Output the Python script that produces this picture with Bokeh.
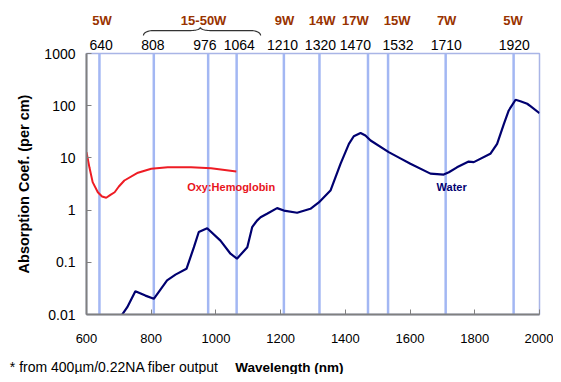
import numpy as np
from bokeh.plotting import figure
from bokeh.models import Range1d, LinearAxis, FixedTicker
from bokeh.embed import file_html
from bokeh.resources import INLINE
from bokeh.core.properties import value

FONT = "Liberation Sans"

# ---- data ----
water_nm = [700, 708, 726, 751, 782, 808, 849, 875, 909, 932, 947, 973, 1014, 1045, 1065,
            1097, 1112, 1127, 1138, 1158, 1189, 1210, 1251, 1292, 1318, 1354, 1385, 1411,
            1426, 1447, 1462, 1478, 1534, 1570, 1601, 1663, 1704, 1720, 1745, 1781, 1797,
            1848, 1869, 1890, 1905, 1926, 1941, 1962, 1972, 2000]
water_abs = [0.0075, 0.0095, 0.0138, 0.028, 0.023, 0.02, 0.045, 0.058, 0.075, 0.195, 0.38,
             0.45, 0.26, 0.146, 0.117, 0.195, 0.47, 0.63, 0.73, 0.85, 1.09, 0.98, 0.89, 1.06,
             1.4, 2.37, 7.7, 18.6, 26, 30, 26.8, 21.5, 12.9, 9.8, 7.7, 5.0, 4.8, 5.3, 6.6,
             8.5, 8.3, 12, 18.6, 45, 81, 130, 122, 109, 98, 72]

hb_nm = [600, 609, 619, 635, 648, 661, 674, 687, 700, 717, 759, 800, 851, 923, 985, 1063]
hb_abs = [12.8, 6.6, 3.43, 2.2, 1.82, 1.72, 1.96, 2.2, 2.83, 3.69, 5.2, 6.2, 6.6, 6.6, 6.36, 5.5]

laser_nm = [640, 808, 976, 1064, 1210, 1320, 1470, 1532, 1710, 1920]
laser_label_x = [645, 805, 966, 1072, 1206, 1323, 1431, 1563, 1712, 1922]

power_labels = ["5W", "15-50W", "9W", "14W", "17W", "15W", "7W", "5W"]
power_x = [648, 962, 1212, 1328, 1431, 1560, 1713, 1918]

x_ticks = [600, 800, 1000, 1200, 1400, 1600, 1800, 2000]
y_ticks = [0.01, 0.1, 1, 10, 100, 1000]
y_tick_labels = ["0.01", "0.1", "1", "10", "100", "1000"]

# brace over the 808-1064 group (nm ends, centre, log heights)
brace_x0, brace_x1, brace_c = 776, 1138, 952
brace_low, brace_flat, brace_tip = 3.345, 3.44, 3.50

series_labels = ["Oxy:Hemoglobin", "Water"]
series_label_x = [911, 1682]
series_label_y = [2.75, 2.75]

# texts below the axis (nm, absorption-scale position)
bottom_texts = ["Wavelength (nm)", "* from 400\u00b5m/0.22NA fiber output"]
bottom_x = [1227, 363]
bottom_y = 0.00097

# ---- figure ----
p = figure(width=553, height=374, x_range=Range1d(600, 2000), y_range=Range1d(0.01, 1000),
           y_axis_type="log", output_backend="svg", toolbar_location=None,
           min_border_left=86, min_border_right=14, min_border_top=53, min_border_bottom=60)
p.grid.visible = False
p.outline_line_color = "#a9b5e6"
p.outline_line_width = 1.5
p.background_fill_color = "white"
p.border_fill_color = "white"

xa = p.xaxis[0]
xa.ticker = FixedTicker(ticks=x_ticks)
xa.major_tick_in = 5
xa.major_tick_out = 0
xa.minor_tick_line_color = None
xa.axis_line_color = "#808080"
xa.axis_line_width = 2
xa.major_tick_line_color = "#808080"
xa.major_label_text_font = FONT
xa.major_label_text_font_size = "13px"
xa.major_label_text_color = "black"
xa.major_label_standoff = 19

ya = p.yaxis[0]
ya.ticker = FixedTicker(ticks=y_ticks)
ya.major_label_overrides = dict(zip(y_ticks, y_tick_labels))
ya.major_tick_in = 5
ya.major_tick_out = 0
ya.minor_tick_line_color = None
ya.axis_line_color = "#808080"
ya.axis_line_width = 2
ya.major_tick_line_color = "#808080"
ya.major_label_text_font = FONT
ya.major_label_text_font_size = "14px"
ya.major_label_text_color = "black"
ya.major_label_standoff = 11
ya.axis_label = "Absorption Coef. (per cm)"
ya.axis_label_text_font = FONT
ya.axis_label_text_font_style = "bold"
ya.axis_label_text_font_size = "14.5px"
ya.axis_label_text_color = "black"
ya.axis_label_standoff = 9

ax1 = LinearAxis(ticker=FixedTicker(ticks=laser_label_x),
                 major_label_overrides={x: str(n) for x, n in zip(laser_label_x, laser_nm)})
ax1.axis_line_color = None
ax1.major_tick_line_color = None
ax1.minor_tick_line_color = None
ax1.major_tick_out = 0
ax1.major_tick_in = 0
ax1.major_label_standoff = 4
ax1.major_label_text_font = FONT
ax1.major_label_text_font_size = "14px"
ax1.major_label_text_color = "black"
p.add_layout(ax1, "above")

ax2 = LinearAxis(ticker=FixedTicker(ticks=power_x),
                 major_label_overrides=dict(zip(power_x, power_labels)))
ax2.axis_line_color = None
ax2.major_tick_line_color = None
ax2.minor_tick_line_color = None
ax2.major_tick_out = 0
ax2.major_tick_in = 0
ax2.major_label_standoff = 9
ax2.major_label_text_font = FONT
ax2.major_label_text_font_style = "bold"
ax2.major_label_text_font_size = "13px"
ax2.major_label_text_color = "#993300"
p.add_layout(ax2, "above")

# vertical laser lines
p.segment(x0=laser_nm, y0=[y_ticks[0]] * len(laser_nm), x1=laser_nm,
          y1=[y_ticks[-1]] * len(laser_nm), line_color="#a3b7f3", line_width=2.5)

p.line(hb_nm, hb_abs, line_color="#ee1c24", line_width=2)
p.line(water_nm, water_abs, line_color="#000070", line_width=2.2)

p.text(x=series_label_x[:1], y=series_label_y[:1], text=series_labels[:1],
       text_font=value(FONT), text_font_style="bold", text_font_size="11px",
       text_color="#e8141c", text_baseline="middle", text_align="left")
p.text(x=series_label_x[1:], y=series_label_y[1:], text=series_labels[1:],
       text_font=value(FONT), text_font_style="bold", text_font_size="11px",
       text_color="#000070", text_baseline="middle", text_align="left")

# brace
d = 30.0
th = np.linspace(0, np.pi / 2, 12)
lx = brace_x0 + d * (1 - np.cos(th))
ly = brace_low + (brace_flat - brace_low) * np.sin(th)
mx = brace_c - d + d * np.sin(th)
my = brace_flat + (brace_tip - brace_flat) * (1 - np.cos(th))
bx = np.concatenate([lx, mx, (2 * brace_c - mx)[::-1], (brace_x0 + brace_x1 - lx)[::-1]])
by = 10 ** np.concatenate([ly, my, my[::-1], ly[::-1]])
br = p.line(bx, by, line_color="#333333", line_width=1.2)
br.level = "overlay"

t1 = p.text(x=bottom_x[:1], y=[bottom_y], text=bottom_texts[:1], text_font=value(FONT),
            text_font_style="bold", text_font_size="13.5px", text_color="black",
            text_align="center", text_baseline="middle")
t1.level = "overlay"
t2 = p.text(x=bottom_x[1:], y=[bottom_y], text=bottom_texts[1:], text_font=value(FONT),
            text_font_size="14px", text_color="black",
            text_align="left", text_baseline="middle")
t2.level = "overlay"

open("out.html", "w").write(file_html(p, INLINE))
